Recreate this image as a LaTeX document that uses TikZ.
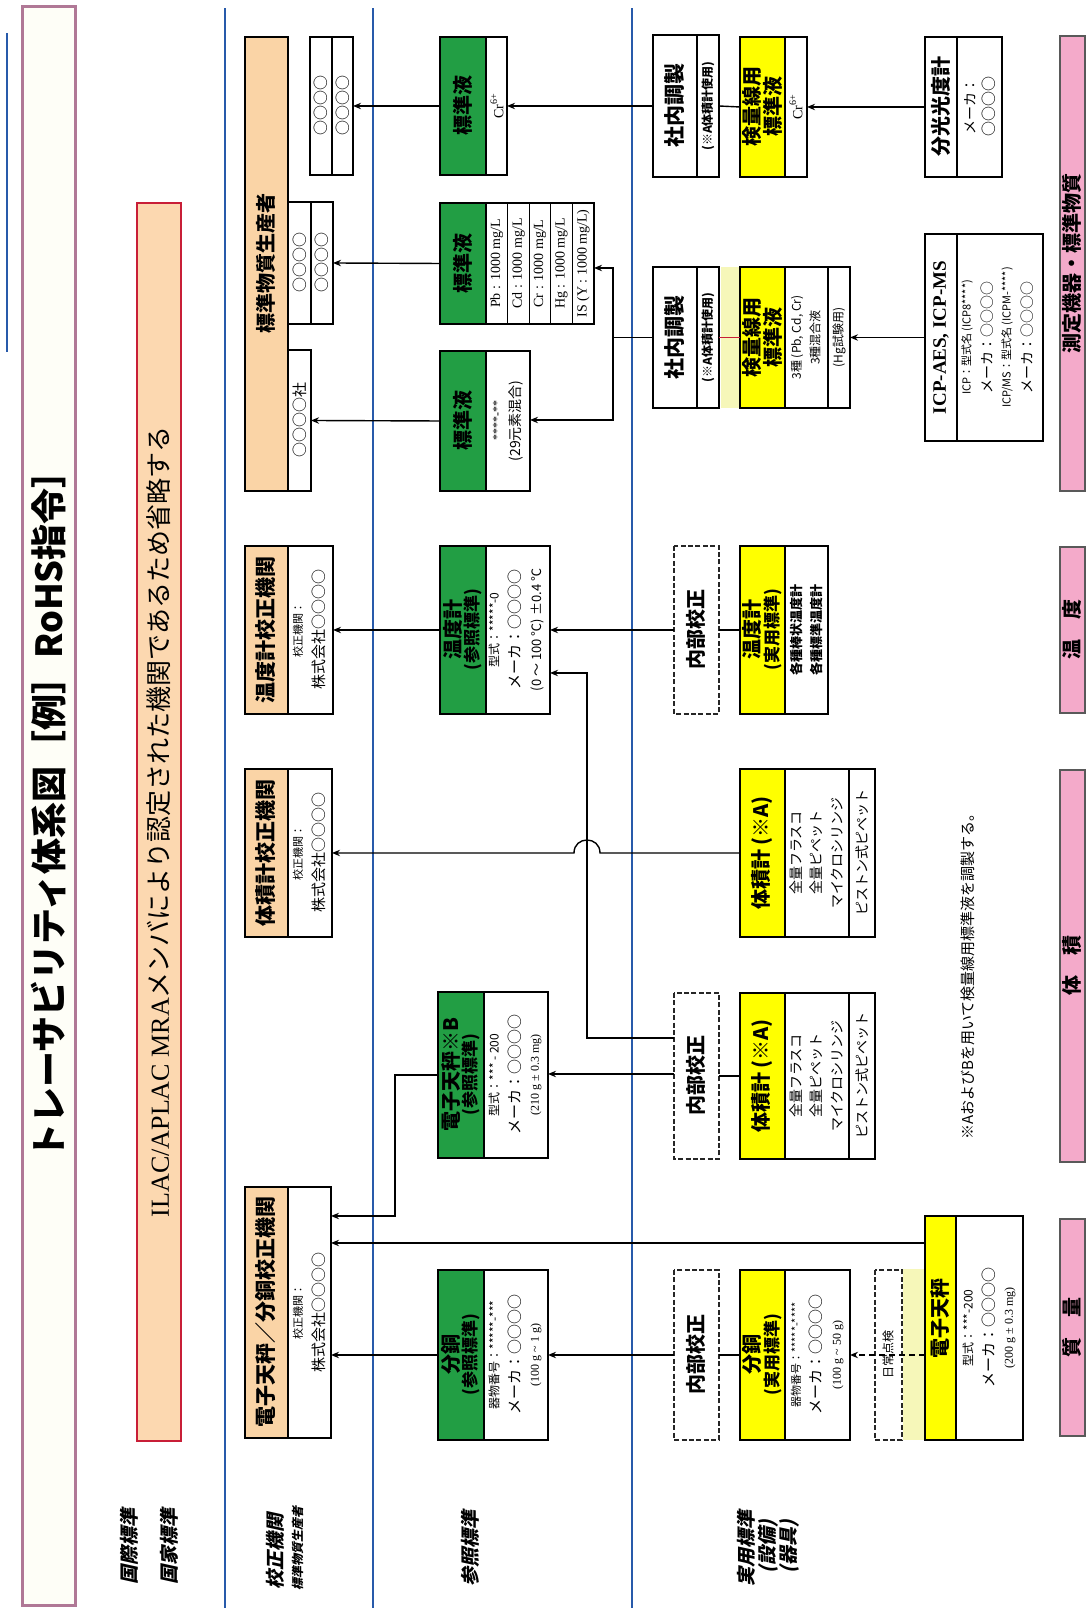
\documentclass[tikz,border=0pt]{standalone}
\usepackage{fontspec}
\setmainfont{Liberation Serif}
\newfontfamily\jp{Noto Sans CJK JP}
\newfontfamily\jpsl[FakeSlant=0.22]{Noto Sans CJK JP}
\usetikzlibrary{arrows.meta}
\definecolor{grn}{RGB}{34,158,68}
\definecolor{ylw}{RGB}{255,255,0}
\definecolor{org}{RGB}{250,212,166}
\definecolor{orgbar}{RGB}{252,216,176}
\definecolor{pnk}{RGB}{244,170,202}
\definecolor{blu}{RGB}{40,90,170}
\definecolor{mauve}{RGB}{176,120,150}
\definecolor{redb}{RGB}{200,30,55}
\definecolor{paley}{RGB}{246,247,185}
\definecolor{titlefill}{RGB}{254,254,247}
\tikzset{
 boxst/.style={draw, line width=0.75pt, inner sep=0pt, outer sep=0pt},
 dbox/.style={draw=black!85, line width=0.6pt, dash pattern=on 2.5pt off 1.2pt, inner sep=0pt, outer sep=0pt},
 sepl/.style={line width=0.6pt},
 hd/.style={inner sep=0pt, font=\jp\bfseries\fontsize{10pt}{11pt}\selectfont},
 hdl/.style={inner sep=0pt, font=\jp\bfseries\fontsize{10.5pt}{12pt}\selectfont},
 hds/.style={inner sep=0pt, font=\jp\bfseries\fontsize{8.5pt}{9pt}\selectfont},
 jsm/.style={inner sep=0pt, font=\jp\fontsize{7pt}{8pt}\selectfont},
 jmd/.style={inner sep=0pt, font=\jp\fontsize{7.5pt}{8pt}\selectfont},
 jsb/.style={inner sep=0pt, font=\jp\bfseries\fontsize{6.5pt}{7.5pt}\selectfont},
 jxs/.style={inner sep=0pt, font=\jp\fontsize{5.5pt}{6.5pt}\selectfont},
 jx6/.style={inner sep=0pt, font=\jp\fontsize{6pt}{7pt}\selectfont},
 lsm/.style={inner sep=0pt, font=\fontsize{7pt}{8pt}\selectfont},
 lxs/.style={inner sep=0pt, font=\fontsize{6pt}{7pt}\selectfont},
 arr/.style={draw, line width=0.7pt, -{Stealth[length=4pt,width=3.2pt]}},
 ln/.style={draw, line width=0.7pt},
 lab/.style={inner sep=0pt, font=\jpsl\bfseries\fontsize{9.5pt}{11pt}\selectfont},
 pinkt/.style={inner sep=0pt, font=\jp\bfseries\fontsize{10pt}{11pt}\selectfont},
 pinkbar/.style={draw=black!65, line width=0.8pt, fill=pnk, inner sep=0pt},
}
% #1 name, #2 header fill, #3 X1, #4 X2, #5 Y1 (top), #6 Yh, #7 Y2 (bottom)
\newcommand{\mkbox}[7]{%
  \fill[#2] (#3,-#5) rectangle (#4,-#6);%
  \draw[sepl] (#3,-#6) -- (#4,-#6);%
  \pgfmathsetmacro\mbcx{(#3+#4)/2}%
  \pgfmathsetmacro\mbcy{-(#5+#7)/2}%
  \pgfmathsetmacro\mbw{(#4-#3)/2}%
  \pgfmathsetmacro\mbh{(#7-#5)/2}%
  \node[boxst, minimum width=\mbw pt, minimum height=\mbh pt] (#1) at (\mbcx,\mbcy) {};%
}
% #1 name, #2 style, #3 X1, #4 X2, #5 Y1, #6 Y2
\newcommand{\mkplain}[6]{%
  \pgfmathsetmacro\mbcx{(#3+#4)/2}%
  \pgfmathsetmacro\mbcy{-(#5+#6)/2}%
  \pgfmathsetmacro\mbw{(#4-#3)/2}%
  \pgfmathsetmacro\mbh{(#6-#5)/2}%
  \node[#2, minimum width=\mbw pt, minimum height=\mbh pt] (#1) at (\mbcx,\mbcy) {};%
}
\begin{document}
\begin{tikzpicture}[x=0.5pt,y=0.5pt]
\useasboundingbox (0,0) rectangle (1088,1619);
\fill[white] (0,0) rectangle (1088,1619);
\begin{scope}[rotate=90, transform shape]
% ---------- header ----------
\draw[blu, line width=0.8pt] (1267,-7) -- (1586,-7);
\mkplain{titlebox}{draw=mauve, line width=1.5pt, fill=titlefill, inner sep=0pt}{13}{1612}{22}{75}
\node[inner sep=0pt, font=\jp\bfseries\fontsize{18pt}{20pt}\selectfont] (title) at (813,-49) {トレーサビリティ体系図［例］RoHS指令］};
\mkplain{ilac}{draw=redb, line width=1.1pt, fill=orgbar, inner sep=0pt}{178}{1416}{137}{181}
\node[inner sep=0pt, font=\fontsize{13pt}{14pt}\selectfont] (ilact) at (797,-159) {ILAC/APLAC MRA{\jp メンバにより認定された機関であるため省略する}};
\foreach \yy in {225,373,632} \draw[blu, line width=1pt] (11,-\yy) -- (1611,-\yy);
% ---------- row labels ----------
\node[lab] (l1) at (72,-129) {国際標準};
\node[lab] (l2) at (72,-169) {国家標準};
\node[lab] (l3) at (68,-275) {校正機関};
\node[inner sep=0pt, font=\jpsl\bfseries\fontsize{6pt}{7pt}\selectfont] (l4) at (70,-298) {標準物質生産者};
\node[lab] (l5) at (70,-470) {参照標準};
\node[lab] (l6) at (70,-746) {実用標準};
\node[lab] (l7) at (72,-768) {(設備)};
\node[lab] (l8) at (72,-789) {(器具)};
% ---------- calibration row ----------
\mkplain{calS}{boxst, fill=org}{1128}{1582}{245}{288}
\mkplain{ooSha}{boxst}{1128}{1269}{288}{311}
\mkplain{ooPb}{boxst}{1295}{1417}{288}{333}
\draw[sepl] (1295,-311) -- (1417,-311);
\mkplain{ooCr}{boxst}{1444}{1582}{310}{353}
\draw[sepl] (1444,-332) -- (1582,-332);
\mkbox{calT}{org}{905}{1073}{245}{288}{333}
\mkbox{calV}{org}{682}{850}{245}{288}{332}
\mkbox{calM}{org}{181}{432}{245}{288}{331}
% ---------- reference row ----------
\mkbox{stdCr}{grn}{1444}{1582}{440}{486}{507}
\mkbox{stdPb}{grn}{1295}{1416}{440}{486}{594}
\foreach \yy in {507.6,529.2,550.8,572.4} \draw[sepl] (1295,-\yy) -- (1416,-\yy);
\mkbox{std29}{grn}{1128}{1268}{440}{486}{530}
\mkbox{refT}{grn}{905}{1073}{440}{486}{550}
\mkbox{refB}{grn}{461}{627}{438}{484}{548}
\mkbox{refM}{grn}{179}{349}{438}{484}{548}
% ---------- working row ----------
\mkbox{shaU}{white}{1442}{1584}{653}{697}{719}
\mkbox{shaL}{white}{1211}{1352}{653}{697}{719}
\fill[paley] (1211,-721) rectangle (1352,-739);
\mkbox{kenU}{ylw}{1442}{1582}{740}{785}{807}
\mkbox{kenL}{ylw}{1211}{1352}{740}{785}{850}
\draw[sepl] (1211,-828) -- (1352,-828);
\mkbox{bunko}{white}{1442}{1582}{925}{957}{1002}
\mkbox{icp}{white}{1178}{1385}{925}{957}{1043}
\mkplain{naiT}{dbox}{905}{1073}{674}{719}
\mkbox{prT}{ylw}{905}{1073}{740}{785}{828}
\mkbox{volU}{ylw}{682}{850}{740}{785}{875}
\draw[sepl] (682,-849) -- (850,-849);
\mkbox{volL}{ylw}{460}{626}{740}{785}{875}
\draw[sepl] (460,-849) -- (626,-849);
\mkplain{naiV}{dbox}{460}{626}{674}{719}
\mkplain{naiM}{dbox}{179}{349}{674}{719}
\mkbox{prM}{ylw}{179}{349}{740}{785}{850}
\fill[paley] (179,-903) rectangle (350,-924);
\mkplain{nichi}{dbox}{179}{349}{875}{902}
\mkbox{eleP}{ylw}{179}{403}{925}{956}{1023}
% ---------- bottom pink bars ----------
\mkplain{pk1}{pinkbar}{1128}{1583}{1060}{1085}
\mkplain{pk2}{pinkbar}{906}{1072}{1060}{1085}
\mkplain{pk3}{pinkbar}{457}{849}{1060}{1085}
\mkplain{pk4}{pinkbar}{183}{400}{1060}{1085}
\node[pinkt] (pt1) at (1355.5,-1072) {測定機器・標準物質};
\node[pinkt] (pt2) at (989,-1072) {温　度};
\node[pinkt] (pt3) at (653,-1072) {体　積};
\node[pinkt] (pt4) at (291.5,-1072) {質　量};
% ---------- connectors ----------
\draw[arr] (stdCr.north) -- (ooCr.south);
\draw[arr] (stdPb.north) -- (ooPb.south);
\draw[arr] (std29.north) -- (ooSha.south);
\draw[arr] (shaU.north) -- (stdCr.south);
\draw[ln] (shaU.south) -- (kenU.north);
\draw[arr] (bunko.north) -- (kenU.south);
\coordinate (jA) at (1351,-613);
\coordinate (jB) at (1199,-613);
\coordinate (jC) at (1281.5,-613);
\draw[ln] (shaL.north) -- (jC);
\draw[arr] (jC) -- (jA) -- (jA |- stdPb.south);
\draw[arr] (jC) -- (jB) -- (jB |- std29.south);
\draw[line width=0.6pt, redb] (shaL.south) -- (kenL.north);
\draw[arr, line width=0.9pt] (icp.north) -- (kenL.south);
\draw[arr] (refT.north) -- (calT.south);
\draw[arr] (naiT.north) -- (refT.south);
\draw[ln] (naiT.south) -- (prT.north);
\draw[arr] (volU.north) -- (766,-600) .. controls (783.3,-600) and (783.3,-574) .. (766,-574) -- (calV.south);
\coordinate (vA) at (581,-587);
\coordinate (vB) at (946,-587);
\draw[arr] (vA |- naiV.north) -- (vA) -- (vB) -- (vB |- refT.south);
\coordinate (vC) at (545,-600);
\draw[arr, line width=0.9pt] (vC |- naiV.north) -- (vC |- refB.south);
\draw[ln] (naiV.south) -- (volL.north);
\coordinate (bA) at (544,-395);
\coordinate (bB) at (403,-395);
\draw[arr] (bA |- refB.north) -- (bA) -- (bB) -- (bB |- calM.south);
\coordinate (eA) at (376,-600);
\draw[arr] (eA |- eleP.north) -- (eA |- calM.south);
\draw[arr] (refM.north) -- (refM.north |- calM.south);
\draw[arr] (naiM.north) -- (refM.south);
\draw[ln] (naiM.south) -- (prM.north);
\draw[arr, dash pattern=on 3pt off 2pt] (prM.south |- eleP.north) -- (prM.south);
% ---------- texts: calibration row ----------
\node[hd] (t1) at (1355,-266) {標準物質生産者};
\node[jmd] (t2) at (1198.5,-300) {○○○○社};
\node[jmd] (t3) at (1356,-300) {○○○○};
\node[jmd] (t4) at (1356,-322) {○○○○};
\node[jmd] (t5) at (1513,-321) {○○○○};
\node[jmd] (t6) at (1513,-343) {○○○○};
\node[hdl] (t7) at (989,-266) {温度計校正機関};
\node[jxs] (t8) at (989,-298) {校正機関：};
\node[jmd] (t9) at (989,-319) {株式会社○○○○};
\node[hdl] (t10) at (766,-266) {体積計校正機関};
\node[jxs] (t11) at (766,-298) {校正機関：};
\node[jmd] (t12) at (766,-319) {株式会社○○○○};
\node[hdl] (t13) at (306.5,-266) {電子天秤／分銅校正機関};
\node[jxs] (t14) at (306.5,-298) {校正機関：};
\node[jmd] (t15) at (306.5,-319) {株式会社○○○○};
% ---------- texts: reference row ----------
\node[hd] (t16) at (1513,-463) {標準液};
\node[lsm] (t17) at (1513,-497) {Cr\textsuperscript{6+}};
\node[hd] (t18) at (1355.5,-463) {標準液};
\node[lsm] (t19) at (1355.5,-496.8) {Pb : 1000 mg/L};
\node[lsm] (t20) at (1355.5,-518.4) {Cd : 1000 mg/L};
\node[lsm] (t21) at (1355.5,-540) {Cr : 1000 mg/L};
\node[lsm] (t22) at (1355.5,-561.6) {Hg : 1000 mg/L};
\node[lsm] (t23) at (1355.5,-583.2) {IS (Y : 1000 mg/L)};
\node[hd] (t24) at (1198,-463) {標準液};
\node[lxs] (t25) at (1198,-497) {****-**};
\node[jsm] (t26) at (1198,-516) {(29元素混合)};
\node[hd] (t27) at (989,-453) {温度計};
\node[hds] (t28) at (989,-473) {(参照標準)};
\node[jx6] (t29) at (989,-494) {型式：*****-0};
\node[jmd] (t30) at (989,-515) {メーカ：○○○○};
\node[inner sep=0pt, font=\jp\fontsize{6.5pt}{7pt}\selectfont] (t31) at (989,-537) {(0 ～ 100 ℃) ±0.4 ℃};
\node[hd] (t32) at (544,-451) {電子天秤※B};
\node[hds] (t33) at (544,-471) {(参照標準)};
\node[jx6] (t34) at (544,-494) {型式：*** - 200};
\node[jmd] (t35) at (544,-515) {メーカ：○○○○};
\node[lxs] (t36) at (544,-536) {(210 g ± 0.3 mg)};
\node[hd] (t37) at (264,-451) {分銅};
\node[hds] (t38) at (264,-471) {(参照標準)};
\node[jx6] (t39) at (264,-494) {器物番号：*****-***};
\node[jmd] (t40) at (264,-515) {メーカ：○○○○};
\node[lxs] (t41) at (264,-536) {(100 g \textasciitilde\ 1 g)};
% ---------- texts: working row ----------
\node[hdl] (t42) at (1513,-675) {社内調製};
\node[jsb, font=\jp\bfseries\fontsize{6pt}{7pt}\selectfont] (t43) at (1513,-708) {(※A体積計使用)};
\node[hdl] (t44) at (1281.5,-675) {社内調製};
\node[jsb, font=\jp\bfseries\fontsize{6pt}{7pt}\selectfont] (t45) at (1281.5,-708) {(※A体積計使用)};
\node[hd] (t46) at (1512,-752) {検量線用};
\node[hd] (t47) at (1512,-773) {標準液};
\node[lsm] (t48) at (1512,-796) {Cr\textsuperscript{6+}};
\node[hd] (t49) at (1281.5,-752) {検量線用};
\node[hd] (t50) at (1281.5,-773) {標準液};
\node[jx6] (t51) at (1281.5,-797) {3種 (Pb, Cd, Cr)};
\node[jx6] (t52) at (1281.5,-815) {3種混合液};
\node[jx6] (t53) at (1281.5,-839) {(Hg試験用)};
\node[hd] (t54) at (1512,-941) {分光光度計};
\node[jsm] (t55) at (1512,-970) {メーカ：};
\node[jmd] (t56) at (1512,-989) {○○○○};
\node[inner sep=0pt, font=\bfseries\fontsize{9.5pt}{11pt}\selectfont] (t57) at (1281.5,-941) {ICP-AES, ICP-MS};
\node[jxs] (t58) at (1281.5,-967) {ICP：型式名 (ICP8****)};
\node[jsm] (t59) at (1281.5,-987) {メーカ：○○○○};
\node[jxs] (t60) at (1281.5,-1007) {ICP/MS：型式名 (ICPM-****)};
\node[jsm] (t61) at (1281.5,-1027) {メーカ：○○○○};
\node[hd] (t62) at (989,-696) {内部校正};
\node[hd] (t63) at (989,-752) {温度計};
\node[hds] (t64) at (989,-773) {(実用標準)};
\node[jsb] (t65) at (989,-797) {各種棒状温度計};
\node[jsb] (t66) at (989,-817) {各種標準温度計};
\node[hd] (t67) at (766,-762) {体積計 (※A)};
\node[jsm] (t68) at (766,-796) {全量フラスコ};
\node[jsm] (t69) at (766,-816) {全量ピペット};
\node[jsm] (t70) at (766,-837) {マイクロシリンジ};
\node[jsm] (t71) at (766,-862) {ピストン式ピペット};
\node[hd] (t72) at (543,-762) {体積計 (※A)};
\node[jsm] (t73) at (543,-796) {全量フラスコ};
\node[jsm] (t74) at (543,-816) {全量ピペット};
\node[jsm] (t75) at (543,-837) {マイクロシリンジ};
\node[jsm] (t76) at (543,-862) {ピストン式ピペット};
\node[hd] (t77) at (543,-696) {内部校正};
\node[hd] (t78) at (264,-696) {内部校正};
\node[hd] (t79) at (264,-752) {分銅};
\node[hds] (t80) at (264,-773) {(実用標準)};
\node[jxs] (t81) at (264,-796) {器物番号：*****-****};
\node[jmd] (t82) at (264,-816) {メーカ：○○○○};
\node[lxs] (t83) at (264,-838) {(100 g \textasciitilde\ 50 g)};
\node[jx6] (t84) at (264,-888) {日常点検};
\node[hd] (t85) at (300,-940) {電子天秤};
\node[jx6] (t86) at (291,-968) {型式：***-200};
\node[jmd] (t87) at (291,-989) {メーカ：○○○○};
\node[lxs] (t88) at (291,-1010) {(200 g ± 0.3 mg)};
\node[jmd] (note) at (646,-968) {※AおよびBを用いて検量線用標準液を調製する。};
\end{scope}
\end{tikzpicture}
\end{document}
